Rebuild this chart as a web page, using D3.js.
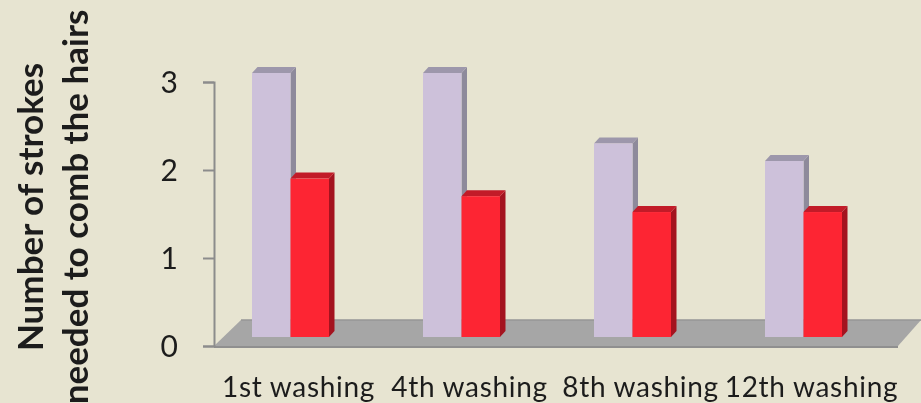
<!DOCTYPE html>
<html><head><meta charset="utf-8">
<script src="https://cdn.jsdelivr.net/npm/d3@7/dist/d3.min.js"></script>
<style>html,body{margin:0;padding:0;background:#e7e4d1;overflow:hidden}svg{display:block;filter:blur(0.4px)}text{font-family:Lato,sans-serif}</style>
</head><body><svg id="c" width="921" height="403"></svg>
<script>
const categories = ["1st washing","4th washing","8th washing","12th washing"];
const seriesNames = ["A","B"];
const seriesA = [3.0,3.0,2.2,2.0];
const seriesB = [1.8,1.6,1.42,1.42];
const tickValues = [0,1,2,3];
const titleLines = ["Number of strokes","needed to comb the hairs"];
const frontColors = ["#cdc1da","#fd2533"];
const sideColors = ["#8e8a9b","#a4131f"];
const topColors = ["#9d97ab","#c21b28"];

const svg = d3.select("#c");
const y = d3.scaleLinear().domain([0,3]).range([346,82]);
const x0 = d3.scaleBand().domain(categories).range([214,898]);
const x1 = d3.scaleBand().domain(seriesNames).range([38,115]);
const lift = 9, dx = 5.5, dy = 6, floorDx = 27, floorDy = 26;

// floor
const fx0 = x0.range()[0], fx1 = x0.range()[1], fy = y(0);
svg.append("polygon")
  .attr("points",[[fx0,fy],[fx0+floorDx,fy-floorDy],[fx1+floorDx-4,fy-floorDy],[fx1,fy]].map(p=>p.join(",")).join(" "))
  .attr("fill","#a6a6a6");
svg.append("line").attr("x1",fx0+floorDx).attr("x2",fx1+floorDx-4).attr("y1",fy-floorDy).attr("y2",fy-floorDy).attr("stroke","#969696").attr("stroke-width",1.5);
svg.append("line").attr("x1",fx0).attr("x2",fx1).attr("y1",fy+1).attr("y2",fy+1).attr("stroke","#8f8f8f").attr("stroke-width",2);

// axis
const axis = d3.axisLeft(y).tickValues(tickValues).tickSize(11).tickPadding(25).tickFormat(d3.format("d"));
const ag = svg.append("g").attr("transform",`translate(${fx0},0)`).call(axis);
ag.selectAll("line,path").attr("stroke","#8c8c8c").attr("stroke-width",2);
ag.selectAll("text").attr("fill","#1c1c1c").attr("font-size",30).attr("dy","0.36em").style("font-family","Lato,sans-serif");

// bars
[seriesA,seriesB].forEach((vals,s)=>{
  const g = svg.append("g");
  vals.forEach((v,i)=>{
    const l = x0(categories[i])+x1(seriesNames[s]);
    const r = l+x1.bandwidth();
    const t = y(v)-lift, b = y(0)-lift;
    g.append("polygon").attr("points",[[r,t],[r+dx,t-dy],[r+dx,b-dy],[r,b]].map(p=>p.join(",")).join(" ")).attr("fill",sideColors[s]);
    g.append("polygon").attr("points",[[l,t],[l+dx,t-dy],[r+dx,t-dy],[r,t]].map(p=>p.join(",")).join(" ")).attr("fill",topColors[s]);
    g.append("rect").attr("x",l).attr("y",t).attr("width",r-l).attr("height",b-t).attr("fill",frontColors[s]);
  });
});

// category labels
svg.selectAll("text.cat").data(categories).join("text").attr("class","cat")
  .attr("x",d=>x0(d)+x0.bandwidth()/2-1).attr("y",397).attr("text-anchor","middle")
  .attr("font-size",28).attr("letter-spacing",0.7).attr("fill","#1c1c1c").text(d=>d);

// title
svg.selectAll("text.ttl").data(titleLines).join("text").attr("class","ttl")
  .attr("transform",(d,i)=>`translate(${43+i*45},207) rotate(-90)`).attr("text-anchor","middle")
  .attr("font-size",35).attr("font-weight",700).attr("fill","#1c1c1c").text(d=>d);
</script></body></html>
